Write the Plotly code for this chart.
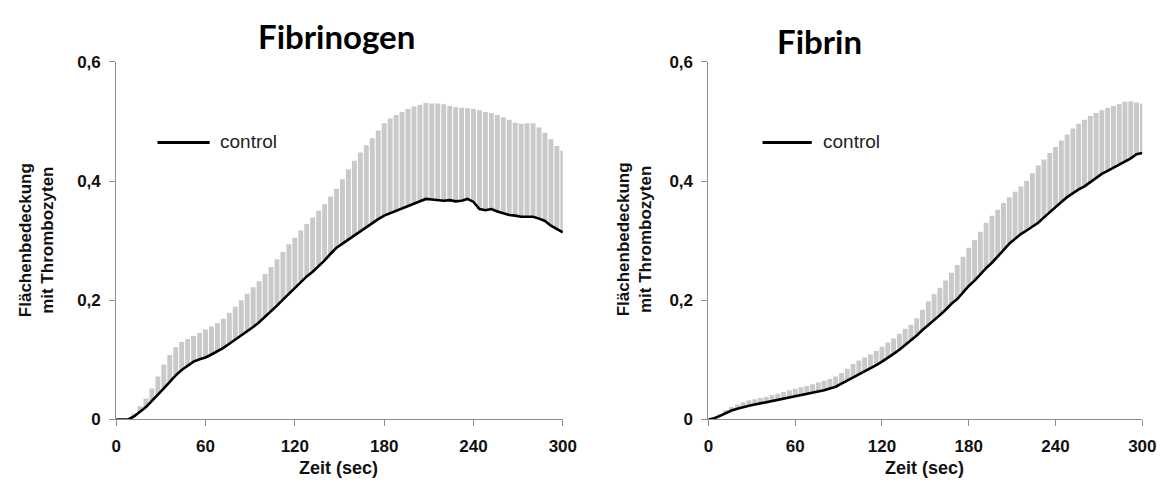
import plotly.graph_objects as go

W, H = 1176, 490

# time points (sec)
time_s = list(range(0, 301, 4))

# Fibrinogen: mean and mean+SD (upper end of gray bars)
fibrinogen_mean = [
    0, 0, 0, 0.005, 0.013, 0.021, 0.031, 0.041, 0.052, 0.063,
    0.074, 0.083, 0.090, 0.097, 0.101, 0.104, 0.109, 0.114, 0.120, 0.127,
    0.134, 0.140, 0.147, 0.155, 0.163, 0.172, 0.181, 0.191, 0.201, 0.211,
    0.221, 0.231, 0.240, 0.248, 0.257, 0.267, 0.278, 0.288, 0.295, 0.302,
    0.309, 0.316, 0.322, 0.329, 0.336, 0.342, 0.346, 0.349, 0.353, 0.358,
    0.362, 0.366, 0.370, 0.369, 0.368, 0.367, 0.368, 0.366, 0.367, 0.370,
    0.365, 0.353, 0.351, 0.353, 0.349, 0.346, 0.343, 0.342, 0.340, 0.340,
    0.340, 0.337, 0.333, 0.325, 0.319, 0.314,
]
fibrinogen_upper = [
    0, 0, 0.001, 0.010, 0.022, 0.035, 0.052, 0.072, 0.092, 0.108,
    0.121, 0.130, 0.135, 0.140, 0.145, 0.151, 0.156, 0.162, 0.169, 0.179,
    0.189, 0.200, 0.211, 0.222, 0.232, 0.244, 0.256, 0.269, 0.281, 0.294,
    0.305, 0.317, 0.328, 0.339, 0.350, 0.361, 0.374, 0.387, 0.403, 0.420,
    0.434, 0.448, 0.460, 0.472, 0.485, 0.497, 0.505, 0.511, 0.516, 0.521,
    0.525, 0.528, 0.531, 0.530, 0.530, 0.529, 0.526, 0.524, 0.523, 0.522,
    0.521, 0.519, 0.516, 0.514, 0.511, 0.507, 0.503, 0.498, 0.496, 0.497,
    0.497, 0.490, 0.481, 0.470, 0.459, 0.451,
]

# Fibrin: mean and mean+SD
fibrin_mean = [
    0, 0.002, 0.006, 0.011, 0.015, 0.018, 0.021, 0.023, 0.025, 0.027,
    0.029, 0.030, 0.032, 0.034, 0.036, 0.038, 0.040, 0.043, 0.045, 0.047,
    0.049, 0.052, 0.055, 0.060, 0.065, 0.070, 0.076, 0.081, 0.086, 0.091,
    0.097, 0.103, 0.110, 0.117, 0.125, 0.132, 0.141, 0.150, 0.158, 0.166,
    0.175, 0.184, 0.194, 0.202, 0.213, 0.224, 0.233, 0.244, 0.254, 0.263,
    0.273, 0.284, 0.295, 0.303, 0.311, 0.317, 0.323, 0.330, 0.339, 0.348,
    0.357, 0.365, 0.373, 0.380, 0.386, 0.391, 0.398, 0.406, 0.412, 0.417,
    0.422, 0.427, 0.432, 0.438, 0.445, 0.447,
]
fibrin_upper = [
    0, 0.003, 0.009, 0.016, 0.021, 0.025, 0.029, 0.032, 0.034, 0.036,
    0.038, 0.041, 0.043, 0.046, 0.049, 0.051, 0.054, 0.056, 0.059, 0.062,
    0.065, 0.068, 0.072, 0.078, 0.085, 0.093, 0.099, 0.104, 0.109, 0.115,
    0.122, 0.129, 0.136, 0.144, 0.152, 0.159, 0.170, 0.184, 0.198, 0.210,
    0.221, 0.233, 0.246, 0.259, 0.273, 0.288, 0.301, 0.315, 0.330, 0.342,
    0.352, 0.363, 0.373, 0.382, 0.391, 0.400, 0.413, 0.426, 0.436, 0.447,
    0.457, 0.468, 0.478, 0.488, 0.496, 0.503, 0.509, 0.514, 0.519, 0.523,
    0.526, 0.529, 0.533, 0.534, 0.532, 0.530,
]

x_ticks = [0, 60, 120, 180, 240, 300]
y_ticks = [0, 0.2, 0.4, 0.6]
y_ticktext = ["0", "0,2", "0,4", "0,6"]
panel_titles = ["Fibrinogen", "Fibrin"]
legend_label = "control"
x_title = "Zeit (sec)"
y_title = "Flächenbedeckung<br>mit Thrombozyten"

TICK_FONT = dict(family="Liberation Sans, Arial", size=17, color="#111111", weight="bold")
GRAY = "#c9c9c9"
AXC = "#8c8c8c"

fig = go.Figure()

panels = [
    (fibrinogen_mean, fibrinogen_upper, "x", "y"),
    (fibrin_mean, fibrin_upper, "x2", "y2"),
]
for mean, upper, xa, ya in panels:
    sd = [u - m for u, m in zip(upper, mean)]
    fig.add_trace(go.Scatter(
        x=time_s, y=mean, xaxis=xa, yaxis=ya, mode="lines",
        name=legend_label, showlegend=False,
        line=dict(color="black", width=2.6),
        error_y=dict(type="data", symmetric=False, array=sd,
                     arrayminus=[0] * len(sd), width=0,
                     thickness=4.9, color=GRAY),
    ))

px = lambda v: v / W
py = lambda v: (H - v) / H

ydom = [py(427), py(55)]
axis_common = dict(showline=True, linecolor=AXC, linewidth=1, ticks="outside",
                   ticklen=6, tickcolor=AXC, tickwidth=1, showgrid=False,
                   zeroline=False, tickfont=TICK_FONT, fixedrange=True,
                   ticklabelstandoff=5)

fig.update_layout(
    width=W, height=H, margin=dict(l=0, r=0, t=0, b=0),
    paper_bgcolor="white", plot_bgcolor="white", showlegend=False,
    xaxis=dict(domain=[px(113), px(567)], range=[0, 300], tickvals=x_ticks,
               anchor="y", **axis_common),
    yaxis=dict(domain=ydom, range=[0, 0.6], tickvals=y_ticks, ticktext=y_ticktext,
               anchor="x", **axis_common),
    xaxis2=dict(domain=[px(715), px(1156)], range=[0, 300], tickvals=x_ticks,
                anchor="y2", **axis_common),
    yaxis2=dict(domain=ydom, range=[0, 0.6], tickvals=y_ticks, ticktext=y_ticktext,
                anchor="x2", **axis_common),
)

ann = []
shapes = []
TITLE_FONT = dict(family="Lato, Carlito, Calibri, sans-serif", size=33, color="black")
ann.append(dict(text="<b>%s</b>" % panel_titles[0], x=px(337), y=py(28), xref="paper", yref="paper",
                xanchor="center", yanchor="middle", showarrow=False, font=TITLE_FONT))
ann.append(dict(text="<b>%s</b>" % panel_titles[1], x=px(828), y=py(33), xref="paper", yref="paper",
                xanchor="center", yanchor="middle", showarrow=False, font=TITLE_FONT))
for cx in (339, 935):
    ann.append(dict(text="<b>%s</b>" % x_title, x=px(cx), y=py(478), xref="paper", yref="paper",
                    xanchor="center", yanchor="middle", showarrow=False,
                    font=dict(family="Liberation Sans, Arial", size=18, color="#111111")))
for cx in (32, 640):
    ann.append(dict(text="<b>%s</b>" % y_title, x=px(cx), y=py(240), xref="paper", yref="paper",
                    xanchor="center", yanchor="middle", showarrow=False, textangle=-90,
                    font=dict(family="Liberation Sans, Arial", size=17, color="#111111")))
for (lx0, lx1, tx) in ((155, 208, 217), (770, 820, 829)):
    shapes.append(dict(type="line", xref="paper", yref="paper", x0=px(lx0), x1=px(lx1),
                       y0=py(139), y1=py(139), line=dict(color="black", width=3)))
    ann.append(dict(text=legend_label, x=px(tx), y=py(138), xref="paper", yref="paper",
                    xanchor="left", yanchor="middle", showarrow=False,
                    font=dict(family="Liberation Sans, Arial", size=19, color="#222222")))

fig.update_layout(annotations=ann, shapes=shapes)
fig.write_html("out.html")
